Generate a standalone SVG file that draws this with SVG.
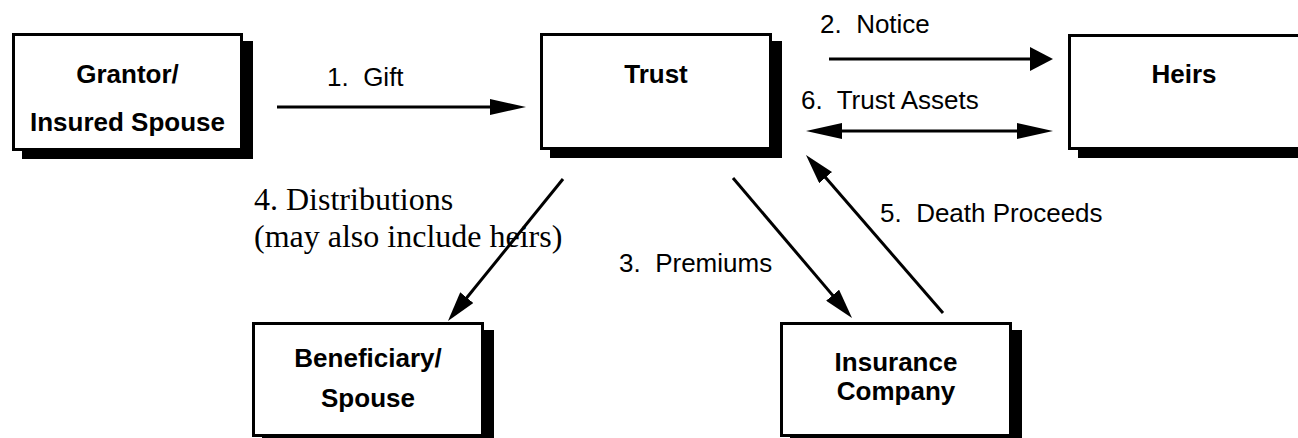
<svg xmlns="http://www.w3.org/2000/svg" width="1298" height="438" viewBox="0 0 1298 438">
<style>
.shadow{fill:#000}
.box{fill:#fff;stroke:#000;stroke-width:3}
.nt{font-family:"Liberation Sans",Arial,sans-serif;font-weight:bold;font-size:26px;fill:#000;text-anchor:middle}
.lb{font-family:"Liberation Sans",Arial,sans-serif;font-size:26px;fill:#000}
.sl{font-family:"Liberation Serif","Times New Roman",serif;font-size:32px;fill:#000}
.cn{stroke:#000;stroke-width:3;fill:none}
</style>
<defs>
<marker id="h1" markerUnits="userSpaceOnUse" viewBox="0 0 36 16" refX="18" refY="8" markerWidth="36" markerHeight="16" orient="auto-start-reverse"><path d="M0,0 L36,8 L0,16 Z" fill="#000"/></marker>
<marker id="h2" markerUnits="userSpaceOnUse" viewBox="0 0 23 24" refX="10" refY="12" markerWidth="23" markerHeight="24" orient="auto"><path d="M0,0 L23,12 L0,24 Z" fill="#000"/></marker>
<marker id="h3" markerUnits="userSpaceOnUse" viewBox="0 0 30 17" refX="15" refY="8.5" markerWidth="30" markerHeight="17" orient="auto"><path d="M0,0 L30,8.5 L0,17 Z" fill="#000"/></marker>
</defs>
<rect width="1298" height="438" fill="#fff"/>
<g id="grantor">
<rect class="shadow" x="22" y="41" width="231" height="118"/>
<rect class="box" x="13.5" y="34.5" width="228" height="115"/>
<text class="nt" x="127.5" y="83">Grantor/</text>
<text class="nt" x="127.5" y="131">Insured Spouse</text>
</g>
<g id="trust">
<rect class="shadow" x="550" y="41" width="232" height="117"/>
<rect class="box" x="541.5" y="34.5" width="229" height="114"/>
<text class="nt" x="656" y="83">Trust</text>
</g>
<g id="heirs">
<rect class="shadow" x="1078" y="42" width="240" height="116"/>
<rect class="box" x="1069.5" y="35.5" width="237" height="113"/>
<text class="nt" x="1184" y="83">Heirs</text>
</g>
<g id="beneficiary">
<rect class="shadow" x="262" y="330" width="232" height="115"/>
<rect class="box" x="253.5" y="323.5" width="229" height="112"/>
<text class="nt" x="368" y="367">Beneficiary/</text>
<text class="nt" x="368" y="407">Spouse</text>
</g>
<g id="insurance">
<rect class="shadow" x="790" y="330" width="232" height="115"/>
<rect class="box" x="781.5" y="323.5" width="229" height="112"/>
<text class="nt" x="896" y="371">Insurance</text>
<text class="nt" x="896" y="400">Company</text>
</g>
<g id="connectors">
<line class="cn" x1="277" y1="107" x2="508" y2="107" marker-end="url(#h1)"/>
<line class="cn" x1="829" y1="59" x2="1040" y2="59" marker-end="url(#h2)"/>
<line class="cn" x1="824" y1="131" x2="1035" y2="131" marker-start="url(#h1)" marker-end="url(#h1)"/>
<line class="cn" x1="563" y1="179" x2="457.4" y2="309.3" marker-end="url(#h3)"/>
<line class="cn" x1="733" y1="178" x2="842.3" y2="306.6" marker-end="url(#h3)"/>
<line class="cn" x1="943" y1="313" x2="815.8" y2="166.3" marker-end="url(#h3)"/>
</g>
<g id="labels">
<text class="lb" x="327" y="86">1.&#160; Gift</text>
<text class="lb" x="820" y="33">2.&#160; Notice</text>
<text class="lb" x="801" y="109">6.&#160; Trust Assets</text>
<text class="lb" x="880" y="222">5.&#160; Death Proceeds</text>
<text class="lb" x="619" y="272">3.&#160; Premiums</text>
<text class="sl" x="254" y="210">4. Distributions</text>
<text class="sl" x="254" y="247">(may also include heirs)</text>
</g>
</svg>
